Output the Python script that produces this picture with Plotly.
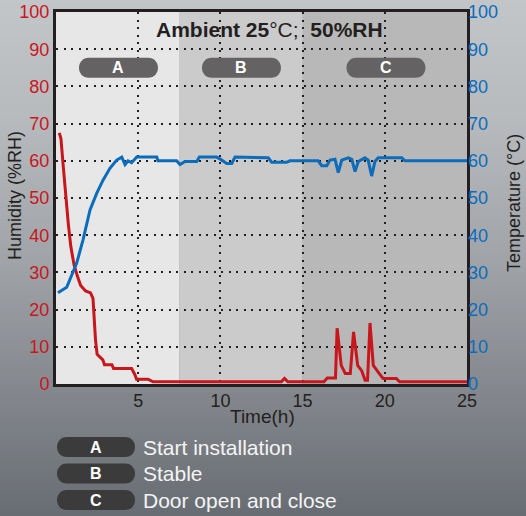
import plotly.graph_objects as go

# ---------------- data ----------------
hum_t = [0.2, 0.3, 0.45, 0.6, 0.75, 0.9, 1.1, 1.3, 1.5, 1.8, 2.1, 2.25, 2.3, 2.4, 2.5, 2.7, 2.85,
         2.95, 3.4, 3.5, 4.6, 4.8, 4.9, 5.6, 5.9, 13.7, 13.9, 14.1, 16.3, 16.5, 17.0, 17.1, 17.35,
         17.6, 17.9, 18.1, 18.35, 18.6, 18.8, 18.95, 19.1, 19.3, 19.6, 19.8, 19.9, 20.7, 20.9, 25.0]
hum_v = [67.5, 66, 58, 50, 43, 37, 32, 29, 26.5, 25, 24.5, 23, 18, 12, 8, 7, 6.5,
         5.2, 5.2, 4.2, 4.2, 2.5, 1.3, 1.3, 0.6, 0.6, 1.5, 0.6, 0.6, 1.6, 1.6, 15, 5,
         2.8, 2.8, 14, 5, 3.5, 1.0, 1.0, 16.4, 5, 3, 2, 1.5, 1.5, 0.6, 0.6]

temp_t = [0.12, 0.65, 1.26, 1.64, 2.07, 2.48, 2.86, 3.28, 3.69, 4.0, 4.2, 4.38, 4.6, 4.91, 6.13,
          6.2, 7.34, 7.54, 7.85, 8.56, 8.72, 9.77, 10.08, 10.38, 10.69, 10.89, 12.91, 13.12,
          14.03, 14.23, 15.95, 16.16, 16.47, 16.67, 16.97, 17.17, 17.38, 17.78, 17.99, 18.19,
          18.39, 18.79, 18.99, 19.2, 19.4, 19.6, 21.03, 21.23, 25.0]
temp_v = [24.5, 26, 32.5, 38.7, 46.8, 51.3, 54.8, 58, 60.2, 61, 59, 60, 59.5, 61, 61,
          60, 60, 59, 59.8, 59.8, 61, 61, 60.2, 59.3, 59.3, 61, 60.8, 59.6,
          59.6, 60, 60, 58.7, 58.7, 60.2, 60.4, 56.8, 60.2, 60.8, 60.4, 57.1,
          59.8, 60.8, 60.2, 55.9, 59.8, 60.8, 60.8, 60, 60]

phase_labels = ["A", "B", "C"]
phase_start = [0, 7.5, 15]
phase_end = [7.5, 15, 25]
phase_desc = ["Start installation", "Stable", "Door open and close"]
phase_pill_x = [3.8, 11.28, 20.07]
pill_y = 85

x_ticks = [5, 10, 15, 20, 25]
y_ticks = list(range(0, 101, 10))

# ---------------- style ----------------
W, H = 526, 516
L, R, T, B = 56, 59, 12, 132
PW, PH = W - L - R, H - T - B
FONT = "Liberation Sans, Arial, sans-serif"
DARK = "#231f20"
RED = "#c8161d"
BLUE = "#0b6cbc"
phase_colors = ["#e7e7e7", "#cbcbcc", "#b8b8b8"]


def px_to_paper_y(p):
    return (H - B - p) / PH


def px_to_paper_x(p):
    return (p - L) / PW


def pill_path_paper(cx, cy, hw, hh):
    """Rounded pill, centre (cx, cy) and half sizes in pixels -> path in paper units."""
    s = hw - hh
    k = 4.0 / 3.0 * hh
    X = lambda v: px_to_paper_x(cx + v)
    Y = lambda v: px_to_paper_y(cy + v)
    return (f"M {X(-s)},{Y(-hh)} L {X(s)},{Y(-hh)} C {X(s + k)},{Y(-hh)} {X(s + k)},{Y(hh)} {X(s)},{Y(hh)} "
            f"L {X(-s)},{Y(hh)} C {X(-s - k)},{Y(hh)} {X(-s - k)},{Y(-hh)} {X(-s)},{Y(-hh)} Z")


def note(xp, yp, text, size, color, bold=False, angle=0, xanchor="center"):
    return dict(x=px_to_paper_x(xp), y=px_to_paper_y(yp), xref="paper", yref="paper",
                text=("<b>%s</b>" % text) if bold else text, showarrow=False,
                xanchor=xanchor, yanchor="middle", textangle=angle,
                font=dict(family=FONT, size=size, color=color))


shapes = []
# background gradient strips
stops = [(0, (195, 198, 201)), (120, (183, 186, 189)), (260, (160, 164, 168)),
         (400, (130, 134, 139)), (516, (104, 109, 115))]


def grad(p):
    for (p0, c0), (p1, c1) in zip(stops[:-1], stops[1:]):
        if p0 <= p <= p1:
            f = (p - p0) / (p1 - p0)
            return tuple(round(a + (b - a) * f) for a, b in zip(c0, c1))
    return stops[-1][1]


step = 4
for p in range(-4, H + 4, step):
    c = grad(min(max(p + step / 2, 0), H))
    shapes.append(dict(type="rect", xref="paper", yref="paper", layer="below",
                       x0=px_to_paper_x(-4), x1=px_to_paper_x(W + 4),
                       y0=px_to_paper_y(p - 0.6), y1=px_to_paper_y(p + step + 0.6),
                       fillcolor="rgb(%d,%d,%d)" % c, line=dict(width=0)))

# phase regions
for s, e, c in zip(phase_start, phase_end, phase_colors):
    shapes.append(dict(type="rect", xref="x", yref="y", layer="below",
                       x0=s, x1=e, y0=0, y1=100, fillcolor=c, line=dict(width=0)))

annotations = []
# in-plot pills
for lab, xv in zip(phase_labels, phase_pill_x):
    cx = L + xv / 25.0 * PW
    cy = T + (100 - pill_y) / 100.0 * PH
    shapes.append(dict(type="path", xref="paper", yref="paper",
                       path=pill_path_paper(cx, cy, 39.5, 10),
                       fillcolor="#656263", line=dict(width=0), layer="above"))
    annotations.append(dict(x=xv, y=pill_y, xref="x", yref="y", text="<b>%s</b>" % lab,
                            showarrow=False, xanchor="center", yanchor="middle",
                            font=dict(family=FONT, size=16, color="white")))

# legend pills below
leg_y_px = [447, 473.5, 500]
for lab, desc, yp in zip(phase_labels, phase_desc, leg_y_px):
    shapes.append(dict(type="path", xref="paper", yref="paper",
                       path=pill_path_paper(96, yp, 39, 10),
                       fillcolor="#3b3b3c", line=dict(width=0), layer="above"))
    annotations.append(note(96, yp, lab, 16, "white", bold=True))
    annotations.append(note(141, yp, desc, 21, "#f4f4f4", xanchor="left"))

# title
annotations.append(dict(x=px_to_paper_x(269), y=px_to_paper_y(30), xref="paper", yref="paper",
                        text="<b>Ambient 25</b>°C;&nbsp;&nbsp;<b>50%RH</b>", showarrow=False,
                        xanchor="center", yanchor="middle",
                        font=dict(family=FONT, size=21, color=DARK)))
# axis titles
annotations.append(note(262, 417, "Time(h)", 19, DARK))
annotations.append(note(15, 196, "Humidity (%RH)", 18, DARK, angle=-90))
annotations.append(note(514, 203, "Temperature (°C)", 18, DARK, angle=-90))

fig = go.Figure()
fig.add_trace(go.Scatter(x=hum_t, y=hum_v, mode="lines", line=dict(color=RED, width=3),
                         yaxis="y", showlegend=False, hoverinfo="skip"))
fig.add_trace(go.Scatter(x=temp_t, y=temp_v, mode="lines", line=dict(color=BLUE, width=3),
                         yaxis="y2", showlegend=False, hoverinfo="skip"))

grid_common = dict(showgrid=True, gridcolor=DARK, gridwidth=1.6, griddash="2px,5.5px",
                   zeroline=False, ticks="", showline=True, linecolor=DARK, linewidth=3, mirror=True,
                   automargin=False)

fig.update_layout(
    width=W, height=H, autosize=False,
    margin=dict(l=L, r=R, t=T, b=B, pad=0, autoexpand=False),
    paper_bgcolor="rgb(150,154,158)", plot_bgcolor="rgba(0,0,0,0)",
    showlegend=False,
    xaxis=dict(range=[0, 25], tickvals=x_ticks, tickfont=dict(family=FONT, size=18, color=DARK),
               ticklabelstandoff=-2, **grid_common),
    yaxis=dict(range=[0, 100], tickvals=y_ticks, tickfont=dict(family=FONT, size=18, color=RED),
               **grid_common),
    yaxis2=dict(range=[0, 100], tickvals=y_ticks, overlaying="y", side="right", showgrid=False,
                zeroline=False, ticks="", showline=False, automargin=False,
                tickfont=dict(family=FONT, size=18, color=BLUE)),
    shapes=shapes, annotations=annotations,
)

fig.write_html("out.html", config={"displayModeBar": False},
               post_script="document.body.style.margin='0';document.body.style.padding='0';")
